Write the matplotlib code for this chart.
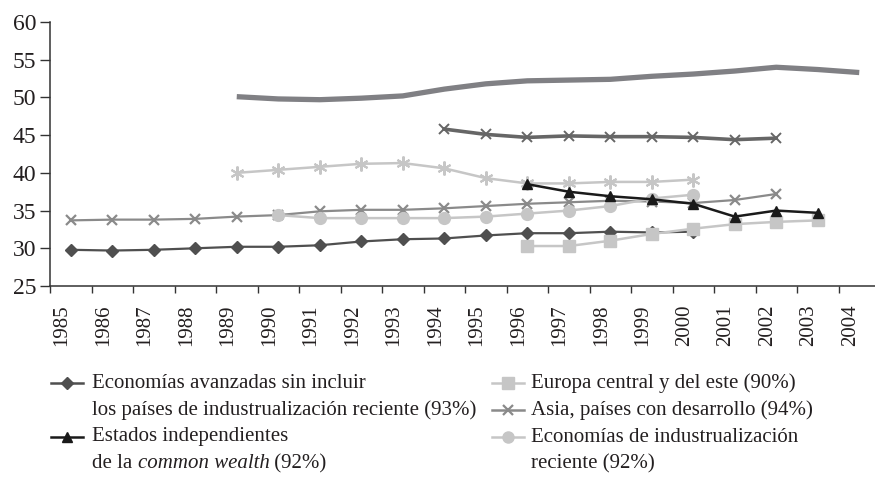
import matplotlib
matplotlib.use('Agg')
import matplotlib.pyplot as plt
import matplotlib.transforms as mtransforms
from matplotlib.lines import Line2D
import numpy as np

plt.rcParams['font.family'] = ['Liberation Serif', 'DejaVu Serif']

years = list(range(1985, 2005))

# each series: first year, values
avanzadas_start = 1985
avanzadas = [29.8, 29.7, 29.8, 30.0, 30.2, 30.2, 30.4, 30.9, 31.2, 31.3, 31.7, 32.0, 32.0, 32.2, 32.1, 32.2]
asia_start = 1985
asia = [33.7, 33.8, 33.8, 33.9, 34.2, 34.4, 34.9, 35.1, 35.1, 35.3, 35.6, 35.9, 36.1, 36.3, 36.2, 36.0, 36.4, 37.2]
nics_start = 1990
nics = [34.4, 34.0, 34.0, 34.0, 34.0, 34.2, 34.6, 35.0, 35.6, 36.6, 37.1]
estrella_start = 1989
estrella = [40.0, 40.4, 40.8, 41.2, 41.3, 40.6, 39.3, 38.6, 38.6, 38.8, 38.8, 39.1]
cruz_start = 1994
cruz = [45.8, 45.1, 44.7, 44.9, 44.8, 44.8, 44.7, 44.4, 44.6]
gruesa_start = 1989
gruesa = [50.1, 49.8, 49.7, 49.9, 50.2, 51.1, 51.8, 52.2, 52.3, 52.4, 52.8, 53.1, 53.5, 54.0, 53.7, 53.3]
cei_start = 1996
cei = [38.5, 37.5, 36.9, 36.5, 35.9, 34.2, 35.0, 34.7]
europa_start = 1996
europa = [30.3, 30.3, 31.0, 31.9, 32.6, 33.2, 33.5, 33.7]

W, H = 875, 479
fig = plt.figure(figsize=(W / 100, H / 100), dpi=100)
ax = fig.add_axes([50 / W, 1 - 286 / H, 830 / W, 264 / H])

def xs(start, vals):
    return np.arange(len(vals)) + (start - years[0])

light = '#c6c6c6'
mid = '#8a8a8a'
dark = '#4f4f4f'
ink = '#231f20'

ax.plot(xs(gruesa_start, gruesa), gruesa, color='#808084', lw=3.8, solid_capstyle='butt', zorder=2)
ax.plot(xs(cruz_start, cruz), cruz, color='#666666', lw=2.6, marker='x', ms=7, mew=1.4, zorder=3)
ax.plot(xs(estrella_start, estrella), estrella, color=light, lw=1.8, marker=(6, 2, 0), ms=10, mew=1.5, zorder=4)
ax.plot(xs(asia_start, asia), asia, color=mid, lw=1.6, marker='x', ms=7, mew=1.6, zorder=5)
ax.plot(xs(nics_start, nics), nics, color=light, lw=1.8, marker='o', ms=8.5, zorder=6)
ax.plot(xs(avanzadas_start, avanzadas), avanzadas, color=dark, lw=1.6, marker='D', ms=6, zorder=7)
ax.plot(xs(europa_start, europa), europa, color=light, lw=1.8, marker='s', ms=8, zorder=8)
ax.plot(xs(cei_start, cei), cei, color='#1a1a1a', lw=1.8, marker='^', ms=7.5, zorder=9)

ax.set_xlim(-0.5, len(years) - 0.5)
ax.set_ylim(25, 60)
ax.set_yticks(range(25, 61, 5))

ax.set_xticks(range(len(years)))
ax.set_xticklabels([str(y) for y in years], rotation=90, fontsize=15, color=ink)
ax.set_xticks(np.arange(-0.5, len(years), 1), minor=True)
ax.tick_params(axis='x', which='major', length=0, pad=13)
ax.tick_params(axis='x', which='minor', length=5, width=1, color='#333333', direction='out')
ax.tick_params(axis='y', length=7, width=1, color='#333333', pad=3, labelsize=17, labelcolor=ink)
shift = mtransforms.ScaledTranslation(-9 / 100, 0, fig.dpi_scale_trans)
for lab in ax.get_xticklabels():
    lab.set_transform(lab.get_transform() + shift)

for side in ['top', 'right']:
    ax.spines[side].set_visible(False)
for side in ['left', 'bottom']:
    ax.spines[side].set_color('#333333')
    ax.spines[side].set_linewidth(1.1)

# legend drawn by hand: two columns, multi-line labels
fs = 15

def handle(x0, y, color, marker, ms, mew=1.0):
    fig.add_artist(Line2D([x0 / W, (x0 + 16) / W, (x0 + 32) / W], [1 - y / H] * 3,
                          color=color, lw=1.8, marker=marker, ms=ms, mew=mew, markevery=[1]))

def label(x, y, s, **kw):
    return fig.text(x / W, 1 - y / H, s, fontsize=fs, va='center', color=ink, **kw)

handle(51, 383, dark, 'D', 6)
label(92, 383, 'Economías avanzadas sin incluir')
label(92, 410, 'los países de industrualización reciente (93%)')
handle(51, 437, '#1a1a1a', '^', 7)
label(92, 437, 'Estados independientes')
t = label(92, 464, 'de la ')
t = ax.annotate('common wealth', xy=(1, 0), xycoords=t, va='bottom', fontsize=fs,
                style='italic', color=ink, annotation_clip=False)
ax.annotate(' (92%)', xy=(1, 0), xycoords=t, va='bottom', fontsize=fs,
            color=ink, annotation_clip=False)

handle(492, 383, light, 's', 8)
label(531, 383, 'Europa central y del este (90%)')
handle(492, 410, mid, 'x', 7, 1.6)
label(531, 410, 'Asia, países con desarrollo (94%)')
handle(492, 437, light, 'o', 8)
label(531, 437, 'Economías de industrualización')
label(531, 464, 'reciente (92%)')

fig.savefig('out.png', dpi=100)
